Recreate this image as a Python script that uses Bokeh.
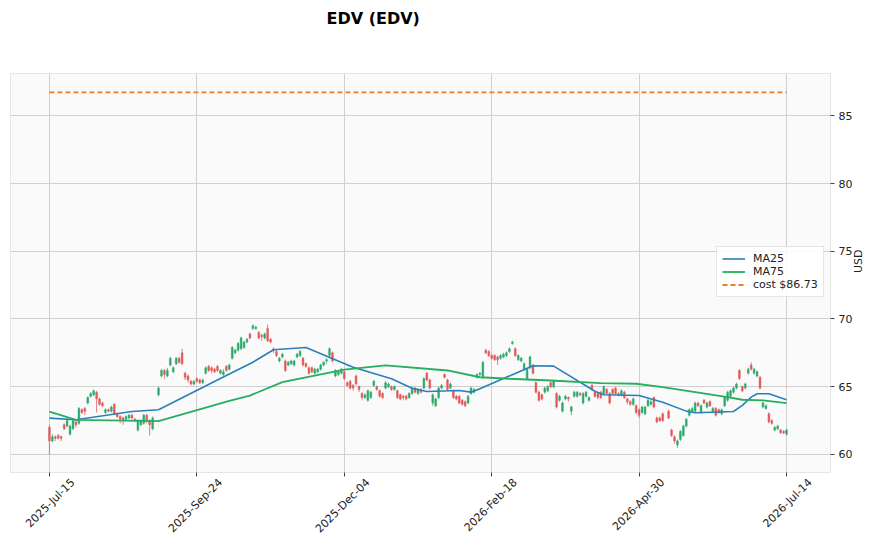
import numpy as np
from bokeh.plotting import figure
from bokeh.models import (ColumnDataSource, Range1d, FixedTicker, Legend, LegendItem,
                          LinearAxis, Title)
from bokeh.embed import file_html
from bokeh.resources import INLINE

# ---------------- data ----------------
bar_idx = list(range(0, 36)) + list(range(37, 209)) + list(range(210, 251))

opens = [
    62.0,61.0,61.3,61.4,61.3,62.2,62.1,61.5,61.9,62.4,
    62.3,63.3,63.4,63.8,64.3,64.4,64.6,64.1,63.8,63.1,
    63.3,63.2,63.7,63.0,62.8,62.7,62.6,62.7,62.9,62.6,
    61.8,62.2,62.3,62.9,62.5,61.9,
    64.4,65.8,66.2,65.8,66.6,66.1,66.7,67.1,67.5,66.0,
    65.8,65.4,65.2,65.6,65.5,65.3,66.0,66.5,66.4,66.3,
    66.5,66.0,65.9,66.5,66.3,67.1,67.5,67.7,67.8,67.9,
    68.3,68.9,69.3,69.3,69.0,68.8,68.6,69.3,68.5,67.8,
    67.6,66.9,67.2,66.9,66.6,66.7,66.6,67.2,67.3,67.1,
    66.7,66.4,66.4,66.0,66.1,66.3,66.6,66.9,67.3,67.5,
    65.8,65.9,66.0,66.1,65.3,65.4,65.1,65.8,65.0,64.5,
    64.2,64.0,64.2,65.1,65.0,64.7,64.5,64.9,65.0,65.0,
    64.8,64.7,64.4,64.3,64.3,64.2,64.5,64.9,64.5,64.8,
    64.9,66.0,65.5,63.8,63.6,64.2,64.9,65.9,65.5,64.9,
    64.7,64.3,64.3,64.0,63.9,63.8,64.5,64.6,65.7,65.9,
    65.7,67.7,67.6,67.3,67.3,67.2,67.1,67.2,67.3,67.6,
    68.2,67.8,67.0,66.9,66.3,65.6,66.4,66.6,65.3,64.6,
    64.4,64.6,64.7,65.3,65.0,64.5,64.0,63.2,64.1,64.2,
    63.2,64.3,64.3,64.5,63.8,64.3,64.0,65.1,64.6,64.5,
    64.6,64.5,64.8,64.5,64.8,64.9,64.5,64.4,64.6,64.1,
    63.9,63.7,63.6,63.3,63.1,63.0,63.6,63.7,64.2,62.7,
    62.7,63.0,
    63.2,61.8,61.3,60.7,61.1,61.4,62.1,62.9,63.2,63.2,
    63.8,63.1,64.0,63.5,63.9,63.2,63.4,63.3,63.0,63.6,
    64.0,64.3,64.6,64.9,66.2,65.0,64.9,66.0,66.6,66.0,
    65.8,65.7,63.5,63.4,63.0,62.5,61.8,61.9,61.8,61.7,61.5,
]
highs = [
    62.2,61.5,61.4,61.5,61.4,62.3,62.6,62.2,62.6,62.6,
    63.5,63.4,63.5,64.3,64.6,64.8,64.7,64.2,63.9,63.4,
    63.4,63.6,63.8,63.1,62.9,62.8,62.9,63.0,63.0,62.7,
    62.6,62.6,63.0,63.0,62.6,62.8,
    65.0,66.3,66.3,66.4,67.2,66.5,67.2,67.2,67.8,66.1,
    65.9,65.5,65.5,65.7,65.6,65.6,66.5,66.6,66.5,66.4,
    66.6,66.3,66.3,66.6,66.7,68.0,67.8,68.3,68.7,68.4,
    68.6,69.0,69.6,69.5,69.1,68.9,69.0,69.6,68.6,67.9,
    67.7,67.2,67.5,67.0,66.9,67.0,67.0,67.5,67.7,67.2,
    66.8,66.5,66.5,66.4,66.4,66.7,66.9,67.1,67.9,67.6,
    66.3,66.2,66.4,66.2,65.4,65.5,65.2,65.9,65.1,64.6,
    64.5,64.8,64.7,65.5,65.1,64.8,64.6,65.4,65.3,65.1,
    65.1,64.8,64.5,64.4,64.4,64.6,65.0,65.0,64.9,64.9,
    65.7,66.1,65.6,64.5,64.2,65.0,65.2,66.0,65.6,65.3,
    64.8,64.4,64.4,64.1,64.0,64.4,65.0,64.9,66.0,66.1,
    66.9,67.8,67.7,67.4,67.4,67.3,67.4,67.5,67.6,67.9,
    68.4,67.9,67.4,67.2,66.8,66.4,67.3,66.7,65.4,64.7,
    64.5,65.0,65.1,65.4,65.5,64.6,64.4,63.9,64.4,64.3,
    63.6,64.7,64.7,64.6,64.6,64.7,64.3,65.2,64.7,64.6,
    64.7,65.1,64.9,64.6,64.9,65.0,64.6,64.8,64.7,64.2,
    64.0,64.2,63.7,63.4,63.6,63.6,64.1,64.0,64.3,62.8,
    62.8,63.1,
    63.3,61.9,61.4,61.1,61.8,62.2,62.7,63.4,63.5,63.9,
    63.9,63.7,64.1,63.9,64.0,63.5,63.5,63.4,63.4,64.3,
    64.7,64.8,65.0,65.3,66.3,65.1,65.3,66.4,66.8,66.4,
    66.2,65.8,63.9,63.7,63.1,62.6,62.1,62.2,61.9,61.8,61.9,
]
lows = [
    60.0,60.9,61.0,61.1,61.0,61.8,62.0,61.4,61.8,62.0,
    62.2,63.0,62.9,63.7,64.2,64.3,63.1,63.6,63.5,63.0,
    63.1,63.1,62.9,62.7,62.3,62.2,62.5,62.6,62.6,62.4,
    61.7,62.1,62.2,62.3,61.4,61.8,
    64.3,65.7,65.6,65.7,66.5,66.0,66.6,66.7,66.6,65.5,
    65.3,65.1,65.1,65.3,65.2,65.2,65.9,66.1,66.0,66.0,
    66.1,65.9,65.8,66.1,66.2,67.0,67.4,67.6,67.7,67.8,
    68.2,68.5,69.2,69.2,68.5,68.4,68.5,68.3,68.2,67.5,
    67.2,66.8,67.1,66.1,66.5,66.6,66.5,67.1,67.2,66.5,
    66.4,65.9,66.0,65.9,66.0,66.2,66.5,66.7,67.2,66.8,
    65.7,65.8,65.9,65.5,65.0,64.8,64.7,65.1,64.6,64.0,
    64.1,63.9,64.1,65.0,64.7,64.2,64.1,64.8,64.9,64.7,
    64.7,64.1,64.0,64.0,64.0,64.1,64.4,64.5,64.4,64.5,
    64.8,65.4,64.8,63.6,63.5,64.1,64.8,65.6,64.7,64.8,
    64.1,64.0,63.7,63.6,63.5,63.7,64.4,64.5,65.6,65.8,
    65.6,67.4,67.2,67.0,66.9,66.6,67.0,67.1,67.2,67.5,
    68.1,67.2,66.9,66.8,66.2,65.5,66.3,65.9,64.5,63.9,
    64.0,64.5,64.6,64.9,64.9,63.4,63.9,63.1,64.0,63.9,
    62.9,64.2,64.2,64.3,63.7,64.2,63.9,64.7,64.2,64.1,
    64.1,64.4,64.4,63.7,64.4,64.4,64.3,64.3,64.1,63.7,
    63.6,63.6,63.0,62.7,63.0,62.9,63.5,63.6,63.4,62.3,
    62.4,62.4,
    62.6,61.3,60.8,60.5,61.0,61.3,62.0,62.8,63.1,63.1,
    63.5,63.0,63.7,63.4,63.5,63.1,62.8,63.0,62.9,63.5,
    63.9,64.2,64.5,64.8,65.5,64.6,64.8,65.9,66.2,65.9,
    65.7,64.8,63.4,63.3,62.3,62.2,61.7,61.8,61.5,61.5,61.4,
]
closes = [
    61.0,61.3,61.2,61.2,61.2,61.9,62.5,62.1,62.5,62.2,
    63.4,63.1,63.2,64.2,64.5,64.7,64.1,63.7,63.6,63.3,
    63.2,63.5,63.0,62.8,62.6,62.5,62.8,62.9,62.7,62.5,
    62.5,62.5,62.9,62.5,62.2,62.7,
    64.9,66.2,65.9,66.2,67.1,66.4,67.1,66.8,66.7,65.7,
    65.5,65.2,65.4,65.4,65.3,65.5,66.4,66.2,66.2,66.1,
    66.2,66.2,66.1,66.2,66.6,67.9,67.7,68.2,68.6,68.3,
    68.5,68.6,69.5,69.4,68.6,68.7,68.9,68.4,68.3,67.7,
    67.3,67.1,67.4,66.2,66.8,66.9,66.9,67.4,67.6,66.6,
    66.5,66.0,66.1,66.3,66.3,66.6,66.8,67.0,67.8,66.9,
    66.2,66.1,66.3,65.6,65.1,64.9,64.9,65.2,64.8,64.2,
    64.4,64.7,64.6,65.4,64.8,64.3,64.2,65.3,65.2,64.8,
    65.0,64.2,64.1,64.2,64.1,64.5,64.9,64.6,64.8,64.6,
    65.6,65.5,64.9,64.4,64.1,64.9,65.1,65.7,64.8,65.2,
    64.2,64.1,63.8,63.7,63.6,64.3,64.9,64.8,65.9,66.0,
    66.8,67.5,67.3,67.1,67.0,67.0,67.3,67.4,67.5,67.8,
    68.3,67.3,67.3,67.1,66.7,66.3,67.2,66.0,64.6,64.0,
    64.1,64.9,65.0,65.0,65.4,63.5,64.3,63.8,64.3,64.1,
    63.5,64.6,64.6,64.4,64.5,64.6,64.2,64.8,64.3,64.2,
    64.2,65.0,64.5,63.8,64.5,64.5,64.4,64.7,64.2,63.9,
    63.7,64.1,63.1,62.9,63.5,63.5,64.0,63.9,63.5,62.4,
    62.5,62.5,
    62.7,61.4,61.0,61.0,61.7,62.1,62.6,63.3,63.4,63.8,
    63.6,63.6,63.8,63.8,63.6,63.4,62.9,63.1,63.3,64.2,
    64.6,64.7,64.9,65.2,65.6,64.7,65.2,66.3,66.3,66.3,
    66.1,64.9,63.8,63.6,62.4,62.3,62.0,62.1,61.6,61.6,61.8,
]

ma25_idx = [0, 9, 28, 37, 60, 69, 76, 87, 103, 116, 123, 128, 139, 143, 146,
            164, 171, 185, 188, 200, 208, 216, 219, 232, 235, 238, 240, 244, 250]
ma25_val = [62.68, 62.56, 63.17, 63.30, 65.83, 66.81, 67.73, 67.90, 66.44, 65.59,
            64.89, 64.65, 64.72, 64.60, 64.85, 66.55, 66.52, 64.67, 64.41, 64.35,
            63.86, 63.20, 63.08, 63.17, 63.62, 64.23, 64.48, 64.48, 64.04]

ma75_idx = [0, 9, 37, 61, 68, 79, 100, 114, 135, 146, 156, 170, 187, 199, 208,
            219, 230, 235, 242, 250]
ma75_val = [63.17, 62.56, 62.46, 63.95, 64.35, 65.34, 66.27, 66.57, 66.20, 65.70,
            65.59, 65.46, 65.26, 65.22, 64.97, 64.60, 64.23, 64.04, 63.99, 63.79]

cost_price = 86.73

tick_pos = [0, 50, 100, 150, 200, 250]
tick_labels = ["2025-Jul-15", "2025-Sep-24", "2025-Dec-04",
               "2026-Feb-18", "2026-Apr-30", "2026-Jul-14"]
y_ticks = [60, 65, 70, 75, 80, 85]
title_text = "EDV (EDV)"

# ---------------- styles ----------------
UP = "#2fa86f"
DOWN = "#e05a5a"
FONT = "DejaVu Sans"
Y_LO, Y_HI = 58.67, 88.12
X_LO, X_HI = -13.2, 264.9
LABEL_SHIFT = 8   # bars: moves the end of each rotated date label so the label is centred on its tick

o = np.array(opens); c = np.array(closes)
colors = [UP if cc >= oo else DOWN for oo, cc in zip(opens, closes)]
src = ColumnDataSource(dict(x=bar_idx, o=opens, h=highs, l=lows, c=closes,
                            top=np.maximum(o, c), bottom=np.minimum(o, c),
                            color=colors))

p = figure(width=875, height=548,
           x_range=Range1d(X_LO, X_HI), y_range=Range1d(Y_LO, Y_HI),
           y_axis_location="right", output_backend="svg", toolbar_location=None,
           min_border_left=10, min_border_right=45, min_border_top=73,
           min_border_bottom=76, background_fill_color="#fafafa",
           border_fill_color="white", outline_line_color="#e6e6e6")

# blank spacer between the frame and the title (pushes the title to the top)
p.add_layout(Title(text=" ", text_font_size="1px", standoff=38), "above")

p.title.text = title_text
p.title.align = "left"
p.title.offset = 316
p.title.standoff = 10
p.title.text_font = FONT
p.title.text_font_size = "16px"
p.title.text_font_style = "bold"
p.title.text_color = "black"

# grid
p.xgrid.ticker = FixedTicker(ticks=tick_pos)
p.ygrid.ticker = FixedTicker(ticks=y_ticks)
for g in (p.xgrid, p.ygrid):
    g.grid_line_color = "#d0d0d0"
    g.grid_line_width = 1

# x axis: tick marks only
xa = p.xaxis[0]
xa.ticker = FixedTicker(ticks=tick_pos)
xa.major_label_overrides = {t: "" for t in tick_pos}
xa.major_label_text_font_size = "1px"
xa.major_label_standoff = 0
xa.axis_line_color = None
xa.major_tick_in = 0
xa.major_tick_out = 4
xa.minor_tick_line_color = None
xa.major_tick_line_color = "#444444"

# x axis: rotated date labels
label_pos = [t + LABEL_SHIFT for t in tick_pos]
xl = LinearAxis(ticker=FixedTicker(ticks=label_pos),
                major_label_overrides={lp: s for lp, s in zip(label_pos, tick_labels)})
xl.major_label_orientation = np.pi / 4
xl.axis_line_color = None
xl.major_tick_line_color = None
xl.minor_tick_line_color = None
xl.major_tick_in = 0
xl.major_tick_out = 0
xl.major_label_standoff = 4
xl.major_label_text_font = FONT
xl.major_label_text_font_size = "11px"
xl.major_label_text_color = "#222222"
p.add_layout(xl, "below")

ya = p.yaxis[0]
ya.ticker = FixedTicker(ticks=y_ticks)
ya.axis_line_color = None
ya.major_tick_in = 0
ya.major_tick_out = 4
ya.minor_tick_line_color = None
ya.major_tick_line_color = "#444444"
ya.major_label_text_font = FONT
ya.major_label_text_font_size = "11px"
ya.major_label_text_color = "#222222"
ya.major_label_standoff = 4
ya.axis_label = "USD"
ya.axis_label_orientation = np.pi / 2
ya.axis_label_text_align = "center"
ya.axis_label_text_font = FONT
ya.axis_label_text_font_size = "11px"
ya.axis_label_text_font_style = "normal"
ya.axis_label_text_color = "#222222"
ya.axis_label_standoff = 3

# candles
p.segment(x0="x", y0="l", x1="x", y1="h", source=src, line_color="color",
          line_width=0.8)
p.vbar(x="x", width=0.6, top="top", bottom="bottom", source=src,
       fill_color="color", line_color="color", line_width=0.5)

# lines
r25 = p.line(ma25_idx, ma25_val, line_color="#2a80b9", line_width=1.6)
r75 = p.line(ma75_idx, ma75_val, line_color="#27ae60", line_width=1.8)
rc = p.line([bar_idx[0], bar_idx[-1]], [cost_price, cost_price],
            line_color="#e67e22", line_width=1.8, line_dash="5 3")

legend = Legend(items=[LegendItem(label="MA25", renderers=[r25]),
                       LegendItem(label="MA75", renderers=[r75]),
                       LegendItem(label=f"cost ${cost_price:.2f}", renderers=[rc])],
                location=(706, 175))
legend.label_text_font = FONT
legend.label_text_font_size = "11px"
legend.label_text_color = "#222222"
legend.glyph_width = 23
legend.glyph_height = 13
legend.label_height = 13
legend.label_standoff = 8
legend.spacing = 0
legend.padding = 5
legend.margin = 0
legend.border_line_color = "#cccccc"
legend.background_fill_color = "white"
legend.background_fill_alpha = 0.85
p.add_layout(legend)

open("out.html", "w").write(file_html(p, INLINE))
